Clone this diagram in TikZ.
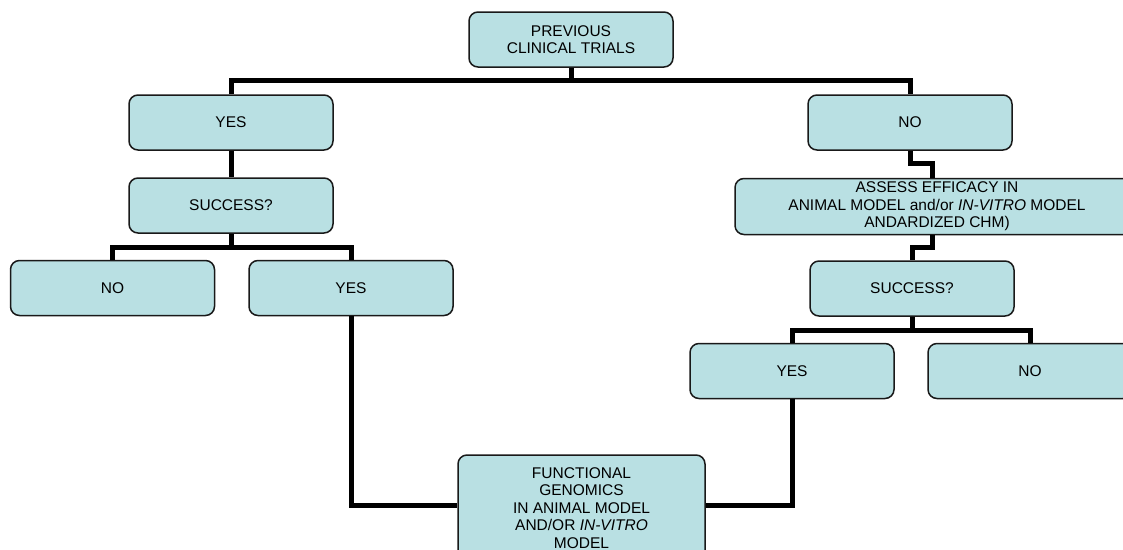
\documentclass[tikz,border=0pt]{standalone}
\usepackage{fontspec}
\setmainfont{Liberation Sans}

\definecolor{boxfill}{RGB}{185,224,227}
\tikzset{
  box/.style={draw=black!90, line width=1.5pt, fill=boxfill, rounded corners=9pt,
    align=center, inner sep=0pt, minimum width=204pt, minimum height=55pt,
    font=\fontsize{15.5}{17.5}\selectfont},
  link/.style={line width=5pt, draw=black}
}

\begin{document}
\begin{tikzpicture}[x=1pt, y=-1pt]
\useasboundingbox (0,0) rectangle (1123,549);
\clip (0,0) rectangle (1123,549);

\node[box] (prev) at (571,39.5) {PREVIOUS\\CLINICAL TRIALS};

\node[box] (yesL) at (231,122.5) {YES};
\node[box] (succL) at (231,205.5) {SUCCESS?};
\node[box] (noL) at (112.5,288) {NO};
\node[box] (yesL2) at (351,288) {YES};

\node[box] (noR) at (910,122.5) {NO};
\node[box, minimum width=404pt, minimum height=56pt] (assess) at (937,206.5)
  {ASSESS EFFICACY IN\\ANIMAL MODEL and/or \textit{IN-VITRO} MODEL\\ANDARDIZED CHM)};
\node[box] (succR) at (912,288.5) {SUCCESS?};
\node[box] (yesR) at (792,371) {YES};
\node[box] (noR2) at (1030,371) {NO};

\node[box, minimum width=247pt, minimum height=106pt] (func) at (581.5,508)
  {FUNCTIONAL\\GENOMICS\\IN ANIMAL MODEL\\AND/OR \textit{IN-VITRO}\\MODEL};

% bars and jogs
\coordinate (bar1) at (0,80.5);
\coordinate (bar2) at (0,247);
\coordinate (bar3) at (0,330);
\coordinate (jog1) at (932,163.5);
\coordinate (jog2) at (932,247);
\coordinate (funcL) at ([yshift=3pt]func.west);
\coordinate (funcR) at ([yshift=3pt]func.east);

\draw[link] (prev.south) -- (prev.south |- bar1);
\draw[link] (yesL.north) -- (yesL.north |- bar1) -- (noR.north |- bar1) -- (noR.north);
\draw[link] (yesL.south) -- (succL.north);
\draw[link] (succL.south) -- (succL.south |- bar2);
\draw[link] (noL.north) -- (noL.north |- bar2) -- (yesL2.north |- bar2) -- (yesL2.north);
\draw[link] (yesL2.south) |- (funcL);

\draw[link] (noR.south) |- (jog1) -- (jog1 |- assess.north);
\draw[link] (jog2 |- assess.south) -- (jog2) -| (succR.north);
\draw[link] (succR.south) -- (succR.south |- bar3);
\draw[link] (yesR.north) -- (yesR.north |- bar3) -- (noR2.north |- bar3) -- (noR2.north);
\draw[link] (yesR.south) |- (funcR);
\end{tikzpicture}
\end{document}
